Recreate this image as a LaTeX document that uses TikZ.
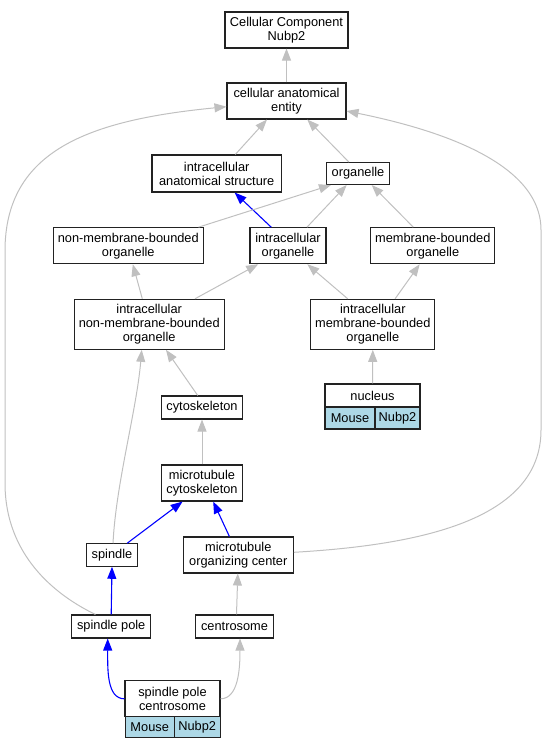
\documentclass[tikz,border=0pt]{standalone}
\usepackage{fontspec}
\setmainfont{Liberation Sans}
\usetikzlibrary{arrows.meta}
\definecolor{edgegray}{HTML}{C0C0C0}
\definecolor{edgeblue}{HTML}{0000FF}
\definecolor{recblue}{HTML}{ADD8E6}
\definecolor{boxline}{HTML}{222222}
\begin{document}
\begin{tikzpicture}[x=1pt,y=-1pt,
  box/.style={draw=boxline, line width=1.05pt, fill=white, inner sep=0pt, align=center,
    font=\fontsize{12.8}{14}\selectfont},
  rec/.style={box, fill=recblue},
  garr/.style={draw=edgegray, line width=1pt, -{Triangle[length=12pt,width=9pt]}},
  barr/.style={draw=edgeblue, line width=1.1pt, -{Triangle[length=12pt,width=9pt]}}]
\useasboundingbox (0,0) rectangle (548,749);

% nodes
\node[box, minimum width=123pt, minimum height=36pt] (ccn) at (286.5,30) {Cellular Component\\Nubp2};
\node[box, minimum width=119pt, minimum height=36pt] (cae) at (286.5,101) {cellular anatomical\\entity};
\node[box, minimum width=129.4pt, minimum height=37pt] (ias) at (216.7,173.5) {intracellular\\anatomical structure};
\node[box, minimum width=62.6pt, minimum height=22pt] (org) at (358,173.5) {organelle};
\node[box, minimum width=150pt, minimum height=36pt] (nmbo) at (128.3,245.7) {non-membrane-bounded\\organelle};
\node[box, minimum width=76pt, minimum height=36pt] (io) at (288,245.7) {intracellular\\organelle};
\node[box, minimum width=124.3pt, minimum height=36pt] (mbo) at (432.8,245.7) {membrane-bounded\\organelle};
\node[box, minimum width=149.7pt, minimum height=50pt] (inmbo) at (149.2,324.3) {intracellular\\non-membrane-bounded\\organelle};
\node[box, minimum width=124.3pt, minimum height=50pt] (imbo) at (372.8,324.3) {intracellular\\membrane-bounded\\organelle};
\node[box, minimum width=95pt, minimum height=23pt] (nuc) at (372.5,395.5) {nucleus};
\node[rec, minimum width=50pt, minimum height=22pt] (nucM) at (350,418) {Mouse};
\node[rec, minimum width=45pt, minimum height=22pt] (nucN) at (397.5,418) {Nubp2};
\node[box, minimum width=81pt, minimum height=23pt] (cyto) at (202,407.5) {cytoskeleton};
\node[box, minimum width=81pt, minimum height=36pt] (mc) at (202,483) {microtubule\\cytoskeleton};
\node[box, minimum width=51pt, minimum height=22.5pt] (spindle) at (112,555) {spindle};
\node[box, minimum width=110pt, minimum height=36pt] (moc) at (238.3,555) {microtubule\\organizing center};
\node[box, minimum width=79pt, minimum height=23pt] (sp) at (111.2,626.5) {spindle pole};
\node[box, minimum width=77.6pt, minimum height=23pt] (cen) at (234.5,626.5) {centrosome};
\node[box, minimum width=95pt, minimum height=35.7pt] (spc) at (172.5,698.8) {spindle pole\\centrosome};
\node[rec, minimum width=49.3pt, minimum height=21.3pt] (spcM) at (149.7,727.3) {Mouse};
\node[rec, minimum width=45.7pt, minimum height=21.3pt] (spcN) at (197.2,727.3) {Nubp2};

% edges
\draw[garr] (cae.north) -- (ccn.south);
\draw[garr] ([xshift=18.6pt]ias.north) -- ([xshift=-19.5pt]cae.south);
\draw[garr] ([xshift=-9.2pt]org.north) -- ([xshift=20.8pt]cae.south);
\draw[barr] ([xshift=-16.8pt]io.north) -- ([xshift=17.9pt]ias.south);
\draw[garr] ([xshift=70.2pt]nmbo.north) -- ([xshift=-27pt]org.south);
\draw[garr] ([xshift=19pt]io.north) -- ([xshift=-11.3pt]org.south);
\draw[garr] ([xshift=-19.5pt]mbo.north) -- ([xshift=13.7pt]org.south);
\draw[garr] ([xshift=-6.9pt]inmbo.north) -- ([xshift=4.5pt]nmbo.south);
\draw[garr] ([xshift=45.8pt]inmbo.north) -- ([xshift=-29.8pt]io.south);
\draw[garr] ([xshift=-25.1pt]imbo.north) -- ([xshift=19.3pt]io.south);
\draw[garr] ([xshift=22.3pt]imbo.north) -- ([xshift=-13.1pt]mbo.south);
\draw[garr] (nuc.north) -- (imbo.south);
\draw[garr] ([xshift=-4.3pt]cyto.north) -- ([xshift=16.8pt]inmbo.south);
\draw[garr] ([xshift=1pt]spindle.north) .. controls +(3,-60) and +(-5,60) .. ([xshift=-7.5pt]inmbo.south);
\draw[garr] (mc.north) -- (cyto.south);
\draw[barr] ([xshift=15.2pt]spindle.north) -- ([xshift=-19.4pt]mc.south);
\draw[barr] ([xshift=-8.9pt]moc.north) -- ([xshift=11.2pt]mc.south);
\draw[barr] (sp.north) -- (spindle.south);
\draw[garr] ([xshift=-15.7pt]sp.north) .. controls (55,595) and (5,555) .. (5,483)
  -- (5,251) .. controls (5,150) and (90,120) .. ([yshift=-5.7pt]cae.west);
\draw[garr] ([yshift=2.7pt]moc.east) .. controls (420,545) and (541,520) .. (541,430)
  -- (541,230) .. controls (541,160) and (430,128) .. ([yshift=-10pt]cae.east);
\draw[garr] ([xshift=2pt]cen.north) -- ([xshift=-0.5pt]moc.south);
\draw[barr] (spc.west) .. controls +(-18,0) and +(0,30) .. ([xshift=-3.5pt]sp.south);
\draw[garr] (spc.east) .. controls +(18,0) and +(0,30) .. ([xshift=5.5pt]cen.south);
\end{tikzpicture}
\end{document}
